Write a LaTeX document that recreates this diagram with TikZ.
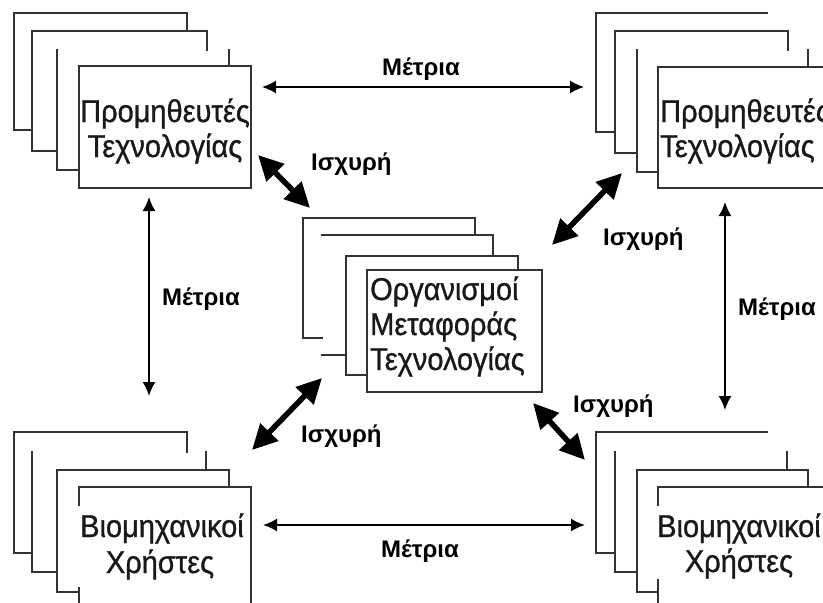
\documentclass[tikz,border=0pt]{standalone}
\usepackage{fontspec}
\setmainfont{Liberation Sans}
\newfontfamily\boxfont[FakeStretch=0.92,FakeBold=0.9]{Liberation Sans}
\usetikzlibrary{arrows.meta}
\definecolor{edge}{HTML}{333333}
\tikzset{
  stackline/.style={draw=edge, line width=1.7pt, line cap=rect},
  boxtext/.style={inner sep=0pt, font=\boxfont\fontsize{31.5}{35}\selectfont, text=black!90},
  lbl/.style={inner sep=0pt, font=\bfseries\fontsize{24}{28}\selectfont, text=black},
  weak/.style={draw=black, line width=1.8pt, {Latex[length=14pt,width=13pt]}-{Latex[length=14pt,width=13pt]}},
  strong/.style={draw=black, line width=5.5pt, {Triangle[length=25pt,width=24pt]}-{Triangle[length=25pt,width=24pt]}}
}
\begin{document}
\begin{tikzpicture}[x=1pt,y=-1pt]
\useasboundingbox (0,0) rectangle (823,603);
\clip (0,0) rectangle (823,603);
\fill[white] (0,0) rectangle (823,603);

% ---------- top-left stack ----------
\draw[stackline] (32,130)--(14,130)--(14,13)--(187,13)--(187,31);
\draw[stackline] (57,151)--(32,151)--(32,31)--(207,31)--(207,50);
\draw[stackline] (57,50)--(57,170)--(79,170);
\draw[stackline] (229,50)--(229,66);
\draw[stackline] (79,66) rectangle (251,188);
\node[boxtext, anchor=base] (tl1) at (165,122) {Προμηθευτές};
\node[boxtext, anchor=base] (tl2) at (165,157) {Τεχνολογίας};

% ---------- top-right stack ----------
\draw[stackline] (615,132)--(596,132)--(596,13)--(767,13);
\draw[stackline] (637,153)--(615,153)--(615,31)--(788,31)--(788,50);
\draw[stackline] (637,50)--(637,172)--(658,172);
\draw[stackline] (808,50)--(808,67);
\draw[stackline] (840,67)--(658,67)--(658,188)--(840,188);
\node[boxtext, anchor=base west] (tr1) at (660,122) {Προμηθευτές};
\node[boxtext, anchor=base west] (tr2) at (660,157) {Τεχνολογίας};

% ---------- centre stack ----------
\draw[stackline] (322,338)--(303,338)--(303,218)--(475,218)--(475,235);
\draw[stackline] (322,235)--(493,235)--(493,256);
\draw[stackline] (322,355)--(346,355);
\draw[stackline] (367,375)--(346,375)--(346,256)--(518,256)--(518,270);
\draw[stackline] (367,270) rectangle (542,392);
\node[boxtext, anchor=base west] (c1) at (370,300) {Οργανισμοί};
\node[boxtext, anchor=base west] (c2) at (370,335) {Μεταφοράς};
\node[boxtext, anchor=base west] (c3) at (370,370) {Τεχνολογίας};

% ---------- bottom-left stack ----------
\draw[stackline] (32,553)--(14,553)--(14,432)--(187,432)--(187,452);
\draw[stackline] (32,452)--(32,572)--(57,572);
\draw[stackline] (206,452)--(206,470);
\draw[stackline] (79,592)--(57,592)--(57,470)--(229,470)--(229,487);
\draw[stackline] (79,505)--(79,487)--(251,487)--(251,620);
\draw[stackline] (79,588)--(79,620);
\node[boxtext, anchor=base] (bl1) at (162,537) {Βιομηχανικοί};
\node[boxtext, anchor=base] (bl2) at (160,573) {Χρήστες};

% ---------- bottom-right stack ----------
\draw[stackline] (615,553)--(596,553)--(596,432)--(767,432);
\draw[stackline] (615,452)--(615,572)--(637,572);
\draw[stackline] (787,452)--(787,470);
\draw[stackline] (658,592)--(637,592)--(637,470)--(808,470)--(808,487);
\draw[stackline] (658,505)--(658,487)--(840,487);
\draw[stackline] (658,580)--(658,620);
\node[boxtext, anchor=base] (br1) at (739,537) {Βιομηχανικοί};
\node[boxtext, anchor=base] (br2) at (739,572) {Χρήστες};

% ---------- connector end points ----------
\coordinate (tA) at (262,87);   \coordinate (tB) at (584,87);
\coordinate (lA) at (149,197);  \coordinate (lB) at (149,396);
\coordinate (rA) at (725,202);  \coordinate (rB) at (725,410);
\coordinate (bA) at (263,525);  \coordinate (bB) at (585,525);
\coordinate (s1a) at (258,155); \coordinate (s1b) at (310,208);
\coordinate (s2a) at (552,245); \coordinate (s2b) at (622,173);
\coordinate (s3a) at (252,450); \coordinate (s3b) at (322,378);
\coordinate (s4a) at (533,403); \coordinate (s4b) at (585,460);

% ---------- moderate links ----------
\draw[weak] (tA) -- (tB);
\draw[weak] (lA) -- (lB);
\draw[weak] (rA) -- (rB);
\draw[weak] (bA) -- (bB);
\node[lbl, anchor=base] (mt) at (421,75) {Μέτρια};
\node[lbl, anchor=base] (ml) at (201,305) {Μέτρια};
\node[lbl, anchor=base] (mr) at (777,315) {Μέτρια};
\node[lbl, anchor=base] (mb) at (420,557) {Μέτρια};

% ---------- strong links ----------
\draw[strong] (s1a) -- (s1b);
\draw[strong] (s2a) -- (s2b);
\draw[strong] (s3a) -- (s3b);
\draw[strong] (s4a) -- (s4b);
\node[lbl, anchor=base west] (i1) at (311,170) {Ισχυρή};
\node[lbl, anchor=base west] (i2) at (603,245) {Ισχυρή};
\node[lbl, anchor=base west] (i3) at (301,442) {Ισχυρή};
\node[lbl, anchor=base west] (i4) at (573,412) {Ισχυρή};
\end{tikzpicture}
\end{document}
